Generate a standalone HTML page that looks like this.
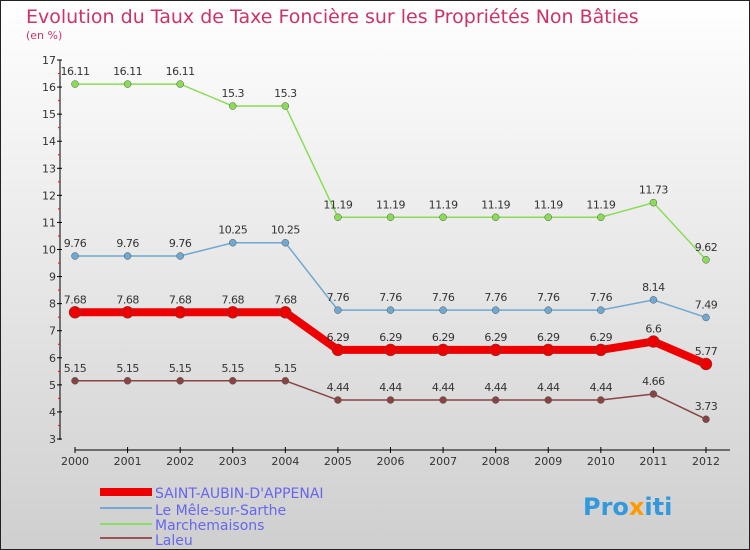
<!DOCTYPE html>
<html><head><meta charset="utf-8"><style>
body{margin:0}
#c{width:750px;height:550px;position:relative;overflow:hidden;font-family:"DejaVu Sans","Liberation Sans",sans-serif;}
</style></head><body>
<div id="c">
<svg id="s" width="750" height="550" xmlns="http://www.w3.org/2000/svg">
<defs><linearGradient id="bg" x1="0" y1="0" x2="0" y2="1"><stop offset="0" stop-color="#ffffff"/><stop offset="1" stop-color="#cfcfcf"/></linearGradient></defs>
<rect x="0.5" y="0.5" width="749" height="549" fill="url(#bg)" stroke="#222"/>
<text x="26" y="23" font-size="19" fill="#cc3366">Evolution du Taux de Taxe Foncière sur les Propriétés Non Bâties</text>
<text x="26" y="39" font-size="11" fill="#cc3366">(en %)</text>
<g id="axes"></g><g id="series"></g>
<g>
<rect x="100" y="488" width="52" height="8" fill="#ee0000"/>
<text x="155" y="498" font-size="14" fill="#6666ee">SAINT-AUBIN-D'APPENAI</text>
<rect x="100" y="507" width="52" height="2" fill="#6fa8d0"/>
<text x="155" y="515" font-size="14" fill="#6666ee">Le Mêle-sur-Sarthe</text>
<rect x="100" y="523" width="52" height="2" fill="#88dd66"/>
<text x="155" y="530" font-size="14" fill="#6666ee">Marchemaisons</text>
<rect x="100" y="537" width="52" height="2" fill="#995555"/>
<text x="155" y="545" font-size="14" fill="#6666ee">Laleu</text>
</g>
<text x="583" y="515" font-size="24" font-weight="bold" fill="#3399dd">Pro<tspan fill="#ff9900">x</tspan>iti</text>
</svg>
</div>
<script>
const years=[2000,2001,2002,2003,2004,2005,2006,2007,2008,2009,2010,2011,2012];
const saintAubin=[7.68,7.68,7.68,7.68,7.68,6.29,6.29,6.29,6.29,6.29,6.29,6.6,5.77];
const leMele=[9.76,9.76,9.76,10.25,10.25,7.76,7.76,7.76,7.76,7.76,7.76,8.14,7.49];
const marchemaisons=[16.11,16.11,16.11,15.3,15.3,11.19,11.19,11.19,11.19,11.19,11.19,11.73,9.62];
const laleu=[5.15,5.15,5.15,5.15,5.15,4.44,4.44,4.44,4.44,4.44,4.44,4.66,3.73];
const yTicks=[3,4,5,6,7,8,9,10,11,12,13,14,15,16,17];
const NS='http://www.w3.org/2000/svg';
const X=i=>75+i*(706-75)/(years.length-1);
const Y=v=>439-(v-3)*(439-60)/14;
function mk(tag,attrs,parent){const e=document.createElementNS(NS,tag);for(const k in attrs)e.setAttribute(k,attrs[k]);parent.appendChild(e);return e;}
const ax=document.getElementById('axes');
let yl=mk('line',{x1:60,y1:60,x2:60,y2:440,stroke:'#000'},ax);


yTicks.forEach(t=>{
 mk('line',{x1:57,y1:Y(t),x2:62,y2:Y(t),stroke:'#000'},ax);
 if(t<17)mk('line',{x1:58,y1:Y(t+0.5),x2:60,y2:Y(t+0.5),stroke:'#ff0000'},ax);
 const tx=mk('text',{x:56,y:Y(t)+4,'font-size':11,fill:'#333','text-anchor':'end'},ax);
 tx.textContent=t;
 
 
});
let xl=mk('line',{x1:75,y1:450,x2:730,y2:450,stroke:'#000'},ax);


years.forEach((y,i)=>{
 mk('line',{x1:X(i),y1:447,x2:X(i),y2:453,stroke:'#000'},ax);
 const tx=mk('text',{x:X(i),y:465,'font-size':11,fill:'#333','text-anchor':'middle'},ax);
 tx.textContent=y;
 
 
});
const sg=document.getElementById('series');
function draw(vals,color,w,r,name){
 const g=mk('g',{},sg);
 
 
 const p=mk('polyline',{points:vals.map((v,i)=>X(i)+','+Y(v)).join(' '),fill:'none',stroke:color,'stroke-width':w},g);
 
 
 vals.forEach((v,i)=>{
  const c=mk('circle',{cx:X(i),cy:Y(v),r:r,fill:color,stroke:'#555','stroke-width':0.5},g);
  
  
  const t=mk('text',{x:X(i),y:Y(v)-9,'font-size':11,fill:'#333','text-anchor':'middle','letter-spacing':'-0.5'},g);
  t.textContent=v;
  
  
 });
}
draw(marchemaisons,'#88dd55',1.5,3.5,'marchemaisons');
draw(leMele,'#6fa8d0',1.5,3.5,'le-mele');
draw(laleu,'#884444',1.5,3.5,'laleu');
draw(saintAubin,'#ee0000',8,6,'saint-aubin');
</script>
</body></html>
